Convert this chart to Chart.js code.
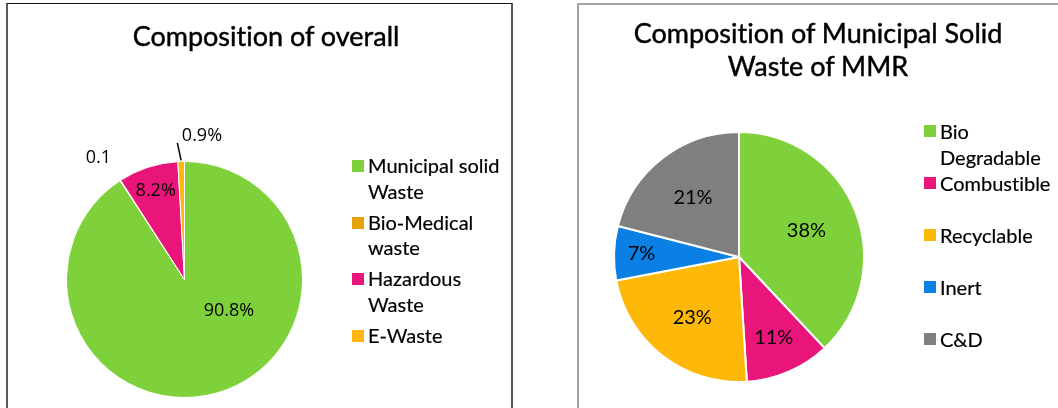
<!DOCTYPE html>
<html>
<head>
<meta charset="utf-8">
<script src="https://cdn.jsdelivr.net/npm/chart.js@4/dist/chart.umd.min.js"></script>
<style>
  html, body { margin: 0; padding: 0; }
  body { width: 1058px; height: 408px; overflow: hidden; background: #fff; position: relative; font-family: Lato, "Open Sans", sans-serif; color: #000; font-variant-ligatures: none; }
  .panel { position: absolute; box-sizing: border-box; height: 430px; }
  #panelA { left: 6px; top: 3px; width: 507px; border-left: 2px solid #5a5a5a; border-right: 2px solid #5a5a5a; border-top: 1px solid #111; }
  #panelB { left: 577px; top: 3px; width: 520px; border: 2px solid #a3a3a3; }
  canvas { position: absolute; }
  #chartA { left: 8px; top: 4px; }
  #chartB { left: 579px; top: 5px; }
  .title { position: absolute; text-align: center; font-size: 27px; line-height: 33px; white-space: nowrap; -webkit-text-stroke: 0.45px #000; }
  #titleA { left: 66px; width: 400px; top: 19px; }
  #titleB { left: 618px; width: 400px; top: 16px; }
  .legend { position: absolute; font-size: 20px; white-space: nowrap; -webkit-text-stroke: 0.2px #000; }
  .legend .item { position: relative; }
  .legend .sw { position: absolute; left: 0; width: 12px; height: 12px; }
  .legend .txt { position: absolute; }
  #legendA { left: 352px; top: 153px; }
  #legendA .item { height: 56.7px; line-height: 25.5px; }
  #legendA .sw { top: 7px; }
  #legendA .txt { left: 16px; top: 0; }
  #legendB { left: 924px; top: 118px; }
  #legendB .item { height: 52px; line-height: 26px; }
  #legendB .sw { top: 7px; }
  #legendB .txt { left: 16px; top: 0; }
</style>
</head>
<body>
<div class="panel" id="panelA"></div>
<div class="panel" id="panelB"></div>
<canvas id="chartA" width="500" height="404"></canvas>
<canvas id="chartB" width="479" height="403"></canvas>
<div class="title" id="titleA">Composition of overall</div>
<div class="title" id="titleB">Composition of Municipal Solid<br>Waste of MMR</div>
<div class="legend" id="legendA"></div>
<div class="legend" id="legendB"></div>

<script>
// Overall waste streams (share of total, %)
const overallCategories = [['Municipal solid', 'Waste'], ['Bio-Medical', 'waste'], ['Hazardous', 'Waste'], ['E-Waste']];
const overallValues = [90.8, 0.1, 8.2, 0.9];
const overallLabelSuffix = ['%', '', '%', '%'];
const overallColors = ['#7fd13b', '#e8a202', '#ea157a', '#feb80a'];

// Municipal solid waste of MMR by type (%)
const mswCategories = [['Bio', 'Degradable'], ['Combustible'], ['Recyclable'], ['Inert'], ['C&D']];
const mswValues = [38, 11, 23, 7, 21];
const mswLabelSuffix = ['%', '%', '%', '%', '%'];
const mswColors = ['#7fd13b', '#ea157a', '#feb80a', '#0a7fe4', '#7f7f7f'];

// Draws each slice's value label at a polar spot relative to the arc
const sliceLabels = {
  id: 'sliceLabels',
  afterDatasetsDraw(chart, args, opts) {
    const ctx = chart.ctx;
    const meta = chart.getDatasetMeta(0);
    const values = chart.data.datasets[0].data;
    ctx.save();
    ctx.font = opts.font;
    ctx.fillStyle = '#000';
    ctx.textAlign = 'center';
    ctx.textBaseline = 'middle';
    meta.data.forEach((arc, i) => {
      const p = opts.place[i];
      const a = arc.getProps(['x', 'y', 'startAngle', 'endAngle', 'outerRadius'], true);
      const mid = (a.startAngle + a.endAngle) / 2;
      const ang = p.angle != null ? (p.angle - 90) * Math.PI / 180 : mid;
      const rr = a.outerRadius * p.r;
      const tx = a.x + Math.cos(ang) * rr;
      const ty = a.y + Math.sin(ang) * rr;
      if (p.leader) {
        const la = (p.leader.angle - 90) * Math.PI / 180;
        ctx.beginPath();
        ctx.moveTo(a.x + Math.cos(mid) * a.outerRadius * 1.01, a.y + Math.sin(mid) * a.outerRadius * 1.01);
        ctx.lineTo(a.x + Math.cos(la) * a.outerRadius * p.leader.r, a.y + Math.sin(la) * a.outerRadius * p.leader.r);
        ctx.strokeStyle = '#000';
        ctx.lineWidth = 1.5;
        ctx.stroke();
      }
      ctx.fillText(values[i] + opts.suffix[i], tx, ty);
    });
    ctx.restore();
  }
};

function pieChart(id, categories, values, colors, borderWidth, padding, labelOpts) {
  return new Chart(document.getElementById(id), {
    type: 'pie',
    data: {
      labels: categories,
      datasets: [{
        data: values,
        backgroundColor: colors,
        borderColor: '#ffffff',
        borderWidth: borderWidth,
        hoverOffset: 0,
        offset: 0
      }]
    },
    options: {
      responsive: false,
      animation: false,
      layout: { padding: padding },
      plugins: {
        legend: { display: false },
        title: { display: false },
        tooltip: { enabled: false },
        sliceLabels: labelOpts
      }
    },
    plugins: [sliceLabels]
  });
}

pieChart('chartA', overallCategories, overallValues, overallColors, 1,
  { left: 58, top: 157, right: 205, bottom: 10 },
  {
    font: '18px "Open Sans", sans-serif',
    suffix: overallLabelSuffix,
    place: [
      { angle: 125, r: 0.46 },
      { angle: 324.6, r: 1.26 },
      { r: 0.79 },
      { angle: 6.9, r: 1.23, leader: { angle: 357, r: 1.16 } }
    ]
  });

pieChart('chartB', mswCategories, mswValues, mswColors, 2,
  { left: 34, top: 126, right: 193, bottom: 25 },
  {
    font: '20px Lato, sans-serif',
    suffix: mswLabelSuffix,
    place: [
      { r: 0.58 },
      { r: 0.70 },
      { r: 0.61 },
      { r: 0.78 },
      { r: 0.60 }
    ]
  });

// Legends built from the same categories and colours
function buildLegend(id, categories, colors) {
  const box = document.getElementById(id);
  categories.forEach((lines, i) => {
    const item = document.createElement('div');
    item.className = 'item';
    const sw = document.createElement('div');
    sw.className = 'sw';
    sw.style.background = colors[i];
    const txt = document.createElement('div');
    txt.className = 'txt';
    lines.forEach((line, k) => {
      if (k) txt.appendChild(document.createElement('br'));
      txt.appendChild(document.createTextNode(line));
    });
    item.appendChild(sw);
    item.appendChild(txt);
    box.appendChild(item);
  });
}
buildLegend('legendA', overallCategories, overallColors);
buildLegend('legendB', mswCategories, mswColors);
</script>
</body>
</html>
